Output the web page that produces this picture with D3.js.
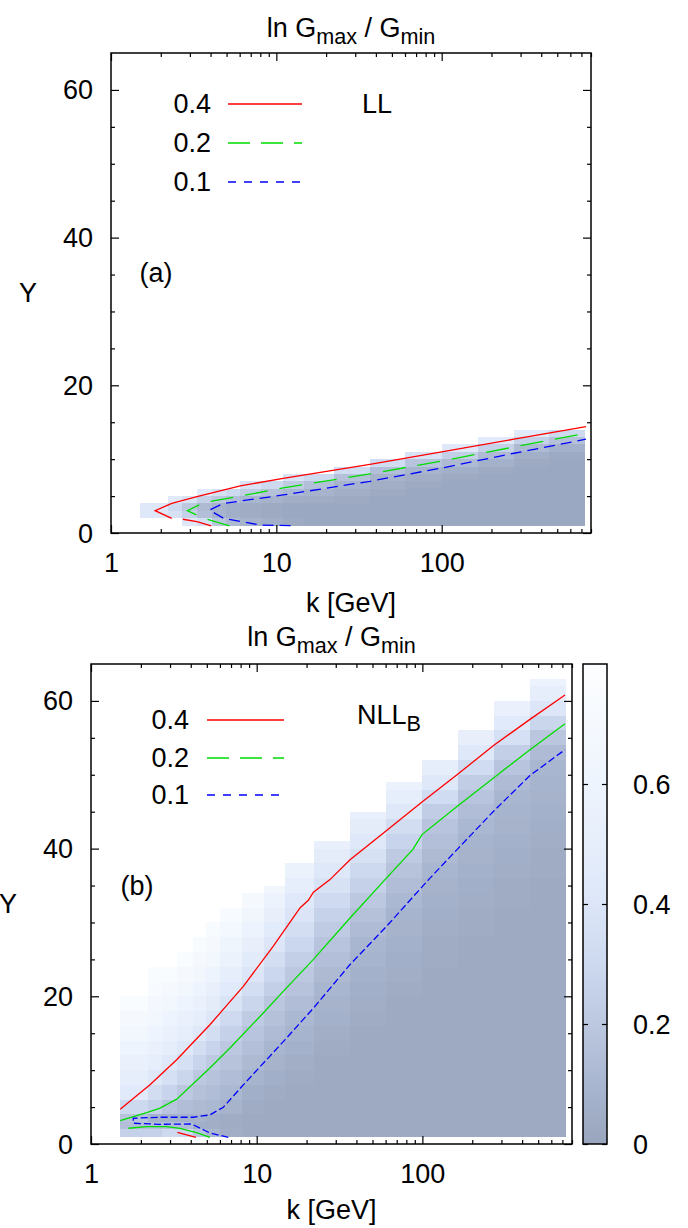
<!DOCTYPE html>
<html><head><meta charset="utf-8">
<script src="https://cdn.jsdelivr.net/npm/d3@7"></script>
<style>
body{margin:0;background:#fff}
svg{display:block}
text{font-family:"Liberation Sans",Arial,Helvetica,sans-serif;fill:#000}
</style>
</head><body>
<svg id="c" width="688" height="1228"></svg>
<script>
// ---------- data ----------
const kEdges = [1.5,2.2,2.7,3.3,4.1,4.95,6.0,8.1,11,14.8,22.2,36.6,60.3,100,165,272,448,740];
const xMajor = [1,10,100];
const xMinor = [2,3,4,5,6,7,8,9,20,30,40,50,60,70,80,90,200,300,400,500,600,700,800];
const yMajor = [0,20,40,60];
const yMinor = [5,10,15,25,30,35,45,50,55];
const cbTicks = [0,0.2,0.4,0.6];
const legendLevels = ["0.4","0.2","0.1"];

// panel (a) LL : 1-unit rows in Y starting at colStartA
const colStartA = [2,2,1,1,1,1,1,1,1,1,1,1,1,1,1,1,1];
const valuesA = [
 [0.42,0.42],
 [0.36,0.30,0.45],
 [0.42,0.25,0.20,0.38],
 [0.35,0.15,0.12,0.25,0.45],
 [0.19,0.09,0.08,0.20,0.36],
 [0.12,0.06,0.06,0.15,0.30],
 [0.08,0.04,0.04,0.10,0.23,0.38],
 [0.06,0.03,0.03,0.08,0.16,0.30],
 [0.03,0.02,0.02,0.05,0.11,0.22,0.38],
 [0.02,0.02,0.02,0.04,0.08,0.15,0.30],
 [0.02,0.02,0.02,0.03,0.05,0.09,0.16,0.32],
 [0.02,0.02,0.02,0.02,0.03,0.05,0.08,0.15,0.32],
 [0.02,0.02,0.02,0.02,0.02,0.03,0.05,0.09,0.18,0.38],
 [0.02,0.02,0.02,0.02,0.02,0.02,0.03,0.06,0.12,0.24,0.42],
 [0.02,0.02,0.02,0.02,0.02,0.02,0.02,0.03,0.07,0.13,0.25,0.45],
 [0.02,0.02,0.02,0.02,0.02,0.02,0.02,0.02,0.03,0.06,0.12,0.25,0.45],
 [0.02,0.02,0.02,0.02,0.02,0.02,0.02,0.02,0.02,0.03,0.07,0.16,0.30]
];

// panel (b) NLL_B : rows on yEdgesB, columns cut at colTopB
const yEdgesB = [1,2,3,4,6,8,10,12,14,16,18,20,22,24,26,28,30,32,34,36,38,40,42,44,46,48,50,52,54,56,58,60,62,64];
const colTopB = [20,24,24,26,28,30,32,34,35,38,41,45,49,52,56,60,63];
const valuesB = [
 [0.25,0.15,0.17,0.30,0.45,0.50,0.55,0.60,0.65,0.70,0.75],
 [0.25,0.15,0.08,0.25,0.33,0.42,0.50,0.55,0.60,0.65,0.68,0.72,0.75],
 [0.30,0.15,0.07,0.18,0.27,0.35,0.42,0.50,0.55,0.60,0.65,0.70,0.75],
 [0.30,0.14,0.07,0.14,0.20,0.28,0.35,0.42,0.50,0.55,0.60,0.65,0.70,0.75],
 [0.18,0.06,0.08,0.12,0.16,0.20,0.27,0.34,0.42,0.50,0.55,0.60,0.65,0.70,0.74],
 [0.10,0.05,0.06,0.11,0.14,0.17,0.21,0.27,0.34,0.41,0.48,0.54,0.60,0.65,0.70,0.74],
 [0.05,0.04,0.04,0.08,0.11,0.14,0.17,0.20,0.25,0.31,0.38,0.45,0.50,0.56,0.62,0.67,0.72],
 [0.03,0.03,0.03,0.04,0.06,0.09,0.12,0.15,0.18,0.22,0.28,0.34,0.40,0.46,0.52,0.58,0.64,0.70],
 [0.03,0.03,0.03,0.03,0.04,0.06,0.08,0.10,0.13,0.16,0.19,0.24,0.29,0.34,0.40,0.46,0.52,0.58,0.64],
 [0.03,0.03,0.03,0.03,0.03,0.04,0.05,0.07,0.09,0.11,0.14,0.17,0.20,0.24,0.29,0.34,0.39,0.44,0.50,0.56],
 [0.03,0.03,0.03,0.03,0.03,0.03,0.03,0.04,0.05,0.07,0.08,0.10,0.12,0.15,0.18,0.22,0.26,0.31,0.37,0.42,0.48,0.54],
 [0.03,0.03,0.03,0.03,0.03,0.03,0.03,0.03,0.03,0.04,0.05,0.06,0.07,0.09,0.10,0.13,0.16,0.20,0.25,0.30,0.36,0.42,0.48,0.54],
 [0.03,0.03,0.03,0.03,0.03,0.03,0.03,0.03,0.03,0.03,0.03,0.04,0.05,0.06,0.07,0.08,0.09,0.11,0.14,0.17,0.21,0.27,0.33,0.42,0.50,0.56],
 [0.03,0.03,0.03,0.03,0.03,0.03,0.03,0.03,0.03,0.03,0.03,0.03,0.03,0.04,0.04,0.05,0.06,0.07,0.08,0.10,0.12,0.15,0.18,0.23,0.32,0.42,0.50],
 [0.03,0.03,0.03,0.03,0.03,0.03,0.03,0.03,0.03,0.03,0.03,0.03,0.03,0.03,0.03,0.04,0.04,0.05,0.06,0.07,0.08,0.09,0.11,0.14,0.18,0.23,0.32,0.43,0.52],
 [0.03,0.03,0.03,0.03,0.03,0.03,0.03,0.03,0.03,0.03,0.03,0.03,0.03,0.03,0.03,0.03,0.03,0.04,0.04,0.05,0.06,0.07,0.08,0.09,0.10,0.13,0.18,0.24,0.35,0.45,0.55],
 [0.03,0.03,0.03,0.03,0.03,0.03,0.03,0.03,0.03,0.03,0.03,0.03,0.03,0.03,0.03,0.03,0.03,0.03,0.03,0.04,0.04,0.05,0.06,0.07,0.08,0.09,0.10,0.13,0.19,0.28,0.40,0.50,0.58]
];

// contour lines [k, Y]
const redA = [[2.33,1.99],[1.85,3.02],[2.33,4.02],[3.31,4.92],[6.05,6.37],[11,7.41],[36.8,9.3],[100,11.0],[274,12.7],[746,14.4]];
const redALow = [[2.72,1.86],[3.31,1.53],[4.04,0.95]];
const greenA = [[5.21,0.95],[3.62,2.0],[2.90,3.02],[3.62,4.1],[6.05,5.0],[11,6.1],[36.8,8.0],[100,9.75],[274,11.65],[746,13.5]];
const blueA = [[12.2,0.99],[8.0,1.08],[4.79,2.0],[3.94,3.1],[4.79,4.0],[11,5.15],[36.8,7.0],[100,8.8],[274,10.8],[746,12.7]];

const redB = [[1.5,4.71],[2.27,8.01],[3.29,11.4],[5.22,16.15],[8.3,21.35],[12.6,26.8],[18.3,32.0],[20.5,33.0],[22.0,34.1],[27.7,35.8],[36.6,38.5],[60.3,42.4],[99.5,46.3],[164,50.1],[270,54.0],[446,57.5],[726,60.8]];
const redBLow = [[3.32,1.59],[4.3,0.91]];
const greenB = [[1.5,3.16],[2.17,4.25],[2.61,4.85],[3.29,6.07],[5.22,10.3],[6.9,13.0],[10.5,17.3],[14.8,20.9],[22.0,25.0],[36.6,30.6],[59.5,35.8],[87.7,39.9],[99.5,41.9],[164,45.8],[270,49.6],[446,53.4],[726,56.9]];
const greenBLow = [[1.68,2.13],[2.17,2.35],[2.86,2.35],[3.44,2.13],[4.34,1.53],[5.22,0.91]];
const blueB = [[6.74,0.91],[5.22,1.49],[4.05,2.71],[2.61,2.67],[1.8,2.81],[1.8,3.49],[2.61,3.62],[4.14,3.62],[5.22,3.94],[6.29,4.98],[8.3,8.0],[14.8,14.1],[22.0,18.4],[36.6,24.3],[60.9,29.5],[109,35.8],[164,40.0],[270,45.1],[446,49.9],[726,53.4]];

// palette
const paletteVals = [0,0.1,0.2,0.3,0.4,0.5,0.6,0.7,0.8];
const paletteCols = ['#98a5bd','#a9b6cf','#bcc8e0','#cdd9ef','#dce6f8','#e6eefb','#eef4fd','#f5f9fe','#fdfeff'];

// ---------- drawing ----------
const svg = d3.select('#c');
const color = d3.scaleLinear().domain(paletteVals).range(paletteCols).clamp(true);
const FS = 27;
const RED='#ff0000', GREEN='#00dd00', BLUE='#0000ff';

function makePanel(o){
  const x = d3.scaleLog().domain([1,800]).range([o.left,o.right]);
  const y = d3.scaleLinear().domain([0,65]).range([o.bottom,o.top]);
  const g = svg.append('g');
  const clipId = 'clip'+o.id;
  svg.append('clipPath').attr('id',clipId).append('rect')
    .attr('x',o.left).attr('y',o.top).attr('width',o.right-o.left).attr('height',o.bottom-o.top);
  const hm = g.append('g').attr('clip-path','url(#'+clipId+')').attr('shape-rendering','crispEdges');
  o.cells.forEach(c=>{
    hm.append('rect')
      .attr('x',x(c.k0)).attr('width',x(c.k1)-x(c.k0))
      .attr('y',y(c.y1)).attr('height',y(c.y0)-y(c.y1))
      .attr('fill',color(c.v));
  });
  const lines = g.append('g').attr('clip-path','url(#'+clipId+')').attr('fill','none');
  const line = d3.line().x(d=>x(d[0])).y(d=>y(d[1]));
  o.curves.forEach(c=>{
    lines.append('path').attr('d',line(c.data)).attr('stroke',c.color)
      .attr('stroke-width',1.3).attr('stroke-dasharray',c.dash||null);
  });
  // axes (inward ticks, mirrored)
  const ax = g.append('g').attr('font-size',FS);
  function addAxis(axis, tx, ty){
    const a = ax.append('g').attr('transform',`translate(${tx},${ty})`).call(axis);
    a.select('.domain').remove();
    a.selectAll('line').attr('stroke','#000').attr('stroke-width',1.2);
    a.selectAll('text').attr('font-size',FS).attr('font-family','"Liberation Sans",Arial,sans-serif');
    return a;
  }
  const bx = addAxis(d3.axisBottom(x).tickValues(xMajor).tickSize(-8).tickPadding(0).tickFormat(d3.format('d')),0,o.bottom);
  bx.selectAll('text').attr('dy',null).attr('y',30).attr('dominant-baseline','central');
  addAxis(d3.axisBottom(x).tickValues(xMinor).tickSize(-4).tickFormat(''),0,o.bottom);
  addAxis(d3.axisTop(x).tickValues(xMajor).tickSize(-8).tickFormat(''),0,o.top);
  addAxis(d3.axisTop(x).tickValues(xMinor).tickSize(-4).tickFormat(''),0,o.top);
  const ly = addAxis(d3.axisLeft(y).tickValues(yMajor).tickSize(-8).tickPadding(0).tickFormat(d3.format('d')),o.left,0);
  ly.selectAll('text').attr('dy',null).attr('x',-18).attr('dominant-baseline','central');
  addAxis(d3.axisLeft(y).tickValues(yMinor).tickSize(-4).tickFormat(''),o.left,0);
  addAxis(d3.axisRight(y).tickValues(yMajor).tickSize(-8).tickFormat(''),o.right,0);
  addAxis(d3.axisRight(y).tickValues(yMinor).tickSize(-4).tickFormat(''),o.right,0);
  // frame
  g.append('rect').attr('x',o.left).attr('y',o.top).attr('width',o.right-o.left).attr('height',o.bottom-o.top)
    .attr('fill','none').attr('stroke','#000').attr('stroke-width',1.5);
  // title
  const t = g.append('text').attr('x',(o.left+o.right)/2).attr('y',o.titleY).attr('text-anchor','middle').attr('font-size',FS);
  t.append('tspan').text('ln G');
  t.append('tspan').attr('font-size',FS*0.8).attr('dy',7).text('max');
  t.append('tspan').attr('dy',-7).text(' / G');
  t.append('tspan').attr('font-size',FS*0.8).attr('dy',7).text('min');
  // x label
  g.append('text').attr('x',(o.left+o.right)/2).attr('y',o.xlabY).attr('text-anchor','middle')
    .attr('dominant-baseline','central').attr('font-size',FS).text('k [GeV]');
  // y label
  g.append('text').attr('x',o.ylabX).attr('y',(o.top+o.bottom)/2).attr('text-anchor','middle')
    .attr('dominant-baseline','central').attr('font-size',FS).text('Y');
  // legend
  const lg = g.append('g').attr('font-size',FS);
  legendLevels.forEach((lab,i)=>{
    const yy = o.legY[i];
    lg.append('text').attr('x',o.legTextX).attr('y',yy).attr('text-anchor','end')
      .attr('dominant-baseline','central').text(lab);
    lg.append('line').attr('x1',o.legX0).attr('x2',o.legX1).attr('y1',yy).attr('y2',yy)
      .attr('stroke',[RED,GREEN,BLUE][i]).attr('stroke-width',1.3)
      .attr('stroke-dasharray',[null,'22,11','8,8'][i]);
  });
  // model label
  const ml = g.append('text').attr('x',o.modelX).attr('y',o.modelY).attr('dominant-baseline','central').attr('font-size',FS);
  ml.append('tspan').text(o.model);
  if(o.modelSub){ ml.append('tspan').attr('font-size',FS*0.8).attr('dy',8).text(o.modelSub); }
  g.append('text').attr('x',o.tagX).attr('y',o.tagY).attr('text-anchor','middle')
    .attr('dominant-baseline','central').attr('font-size',FS).text(o.tag);
  return {x,y};
}

// cells for panel a
const cellsA = [];
valuesA.forEach((col,i)=>col.forEach((v,j)=>{
  cellsA.push({k0:kEdges[i],k1:kEdges[i+1],y0:colStartA[i]+j,y1:colStartA[i]+j+1,v});
}));
// cells for panel b
const cellsB = [];
valuesB.forEach((col,i)=>col.forEach((v,j)=>{
  cellsB.push({k0:kEdges[i],k1:kEdges[i+1],y0:yEdgesB[j],y1:Math.min(yEdgesB[j+1],colTopB[i]),v});
}));

makePanel({id:'a',left:111,right:591,top:53,bottom:533,cells:cellsA,
  curves:[{data:redA,color:RED},{data:redALow,color:RED},
          {data:greenA,color:GREEN,dash:'23,12'},{data:blueA,color:BLUE,dash:'11,6'}],
  titleY:37,xlabY:603,ylabX:28,legY:[104,143,182],legTextX:211,legX0:228,legX1:302,
  model:'LL',modelX:362,modelY:104,tag:'(a)',tagX:156,tagY:273});

makePanel({id:'b',left:91,right:572,top:664,bottom:1144,cells:cellsB,
  curves:[{data:redB,color:RED},{data:redBLow,color:RED},
          {data:greenB,color:GREEN},{data:greenBLow,color:GREEN},
          {data:blueB,color:BLUE,dash:'7,3'}],
  titleY:646,xlabY:1210,ylabX:8,legY:[720,758,795],legTextX:189,legX0:207,legX1:284,
  model:'NLL',modelSub:'B',modelX:357,modelY:715,tag:'(b)',tagX:137,tagY:886});

// colour bar
const cb = {left:583,right:607,top:664,bottom:1144};
const cy = d3.scaleLinear().domain([0,0.8]).range([cb.bottom,cb.top]);
const defs = svg.append('defs');
const grad = defs.append('linearGradient').attr('id','cbg').attr('x1',0).attr('y1',1).attr('x2',0).attr('y2',0);
paletteVals.forEach((v,i)=>grad.append('stop').attr('offset',v/0.8).attr('stop-color',paletteCols[i]));
svg.append('rect').attr('x',cb.left).attr('y',cb.top).attr('width',cb.right-cb.left).attr('height',cb.bottom-cb.top)
  .attr('fill','url(#cbg)');
const cbr = svg.append('g').attr('transform',`translate(${cb.right},0)`)
  .call(d3.axisRight(cy).tickValues(cbTicks).tickSize(-5).tickPadding(0).tickFormat(d=>d===0?'0':d3.format('.1f')(d)));
cbr.select('.domain').remove();
cbr.selectAll('line').attr('stroke','#000').attr('stroke-width',1.2);
cbr.selectAll('text').attr('font-size',FS).attr('font-family','"Liberation Sans",Arial,sans-serif')
  .attr('dy',null).attr('x',26).attr('dominant-baseline','central');
const cbl = svg.append('g').attr('transform',`translate(${cb.left},0)`)
  .call(d3.axisLeft(cy).tickValues(cbTicks).tickSize(-5).tickFormat(''));
cbl.select('.domain').remove();
cbl.selectAll('line').attr('stroke','#000').attr('stroke-width',1.2);
svg.append('rect').attr('x',cb.left).attr('y',cb.top).attr('width',cb.right-cb.left).attr('height',cb.bottom-cb.top)
  .attr('fill','none').attr('stroke','#000').attr('stroke-width',1.5);
</script>
</body></html>
